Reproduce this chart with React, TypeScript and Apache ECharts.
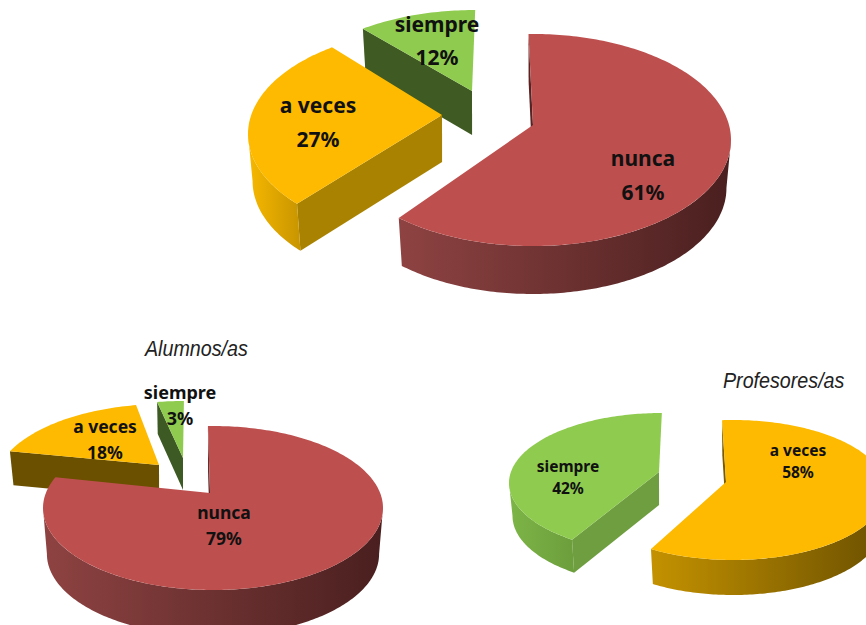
import React, { useEffect, useRef } from "react";
import * as echarts from "echarts";

// ---- data ----
const generalCategories = ["nunca", "a veces", "siempre"];
const generalValues = [61, 27, 12];
const alumnosCategories = ["nunca", "a veces", "siempre"];
const alumnosValues = [79, 18, 3];
const profesoresCategories = ["a veces", "siempre"];
const profesoresValues = [58, 42];
const titles = ["Alumnos/as", "Profesores/as"];

// ---- layout / style only ----
const RED = { top: "#BD504F", cut: "#5A2323", wall0: "#8E4342", wall1: "#4A1F1F" };
const BOTTOM_K = 0.977;

type Slice = {
  ax: number; ay: number; cx: number; cy: number; rx: number; ry: number;
  start: number; scale: number; depth: number; z: number;
  lx: number; ly: number; lh: number; fs: number;
  top: string; cut: string; wall0: string; wall1: string;
};
const O = (cut: string, wall0: string, wall1: string) => ({ top: "#FDBA00", cut, wall0, wall1 });
const G = (cut: string, wall0: string, wall1: string) => ({ top: "#8ECB4F", cut, wall0, wall1 });

const generalLayout: Slice[] = [
  { ax: 533, ay: 125, cx: 533, cy: 140, rx: 198, ry: 106, start: -1.3, scale: 1.02, depth: 48, z: 2, lx: 643, ly: 158, lh: 34, fs: 21, ...RED },
  { ax: 442, ay: 115, cx: 446, cy: 134, rx: 198, ry: 106, start: 228.8, scale: 0.988, depth: 47, z: 3, lx: 318, ly: 105, lh: 34, fs: 21, ...O("#A88200", "#F7B800", "#C89500") },
  { ax: 472, ay: 91, cx: 475, cy: 116, rx: 198, ry: 106, start: 325.5, scale: 0.8, depth: 44, z: 1, lx: 437, ly: 24, lh: 33, fs: 21, ...G("#3F5A22", "#3F5A22", "#3F5A22") },
];
const alumnosLayout: Slice[] = [
  { ax: 210, ay: 493, cx: 213, cy: 508, rx: 170, ry: 82, start: -1.7, scale: 1.033, depth: 46, z: 3, lx: 224, ly: 512, lh: 26, fs: 17.5, ...RED },
  { ax: 159, ay: 465, cx: 164, cy: 486, rx: 170, ry: 82, start: 295, scale: 0.857, depth: 34, z: 2, lx: 105, ly: 426, lh: 26, fs: 17.5, ...O("#6B5000", "#6B5000", "#6B5000") },
  { ax: 183, ay: 458, cx: 184, cy: 483, rx: 170, ry: 82, start: 350.9, scale: 0.84, depth: 32, z: 1, lx: 180, ly: 392, lh: 26, fs: 18, ...G("#3D5A25", "#3D5A25", "#3D5A25") },
];
const profesoresLayout: Slice[] = [
  { ax: 726, ay: 482, cx: 733, cy: 490, rx: 153, ry: 70, start: -4.1, scale: 1.037, depth: 35, z: 2, lx: 798, ly: 450, lh: 22, fs: 15.5, ...O("#7A5A00", "#C49200", "#6B5000") },
  { ax: 659, ay: 472, cx: 662, cy: 483, rx: 153, ry: 70, start: 216, scale: 0.952, depth: 33, z: 1, lx: 568, ly: 466, lh: 22, fs: 15.5, ...G("#6E9E3F", "#7DB547", "#6C9E3C") },
];

const rad = (d: number) => (d * Math.PI) / 180;
const pt = (s: Slice, deg: number): [number, number] => [
  s.cx + s.rx * Math.sin(rad(deg)),
  s.cy - s.ry * Math.cos(rad(deg)),
];
const low = (s: Slice, p: [number, number]): [number, number] => [
  s.cx + (p[0] - s.cx) * BOTTOM_K,
  p[1] + s.depth,
];
const arc = (s: Slice, a: number, b: number) => {
  const out: [number, number][] = [];
  const n = Math.max(2, Math.ceil(Math.abs(b - a)));
  for (let i = 0; i <= n; i++) out.push(pt(s, a + ((b - a) * i) / n));
  return out;
};

const LABEL_FONT = '"Noto Sans", sans-serif';

function pieSeries(categories: string[], values: number[], layout: Slice[]) {
  return {
    type: "custom",
    coordinateSystem: "none",
    silent: true,
    clip: false,
    data: values.map((v) => [v]),
    renderItem: (params: any, api: any) => {
      const s = layout[params.dataIndex];
      const value = api.value(0) as number;
      const a0 = s.start;
      const a1 = s.start + value * 3.6 * s.scale;
      const apex: [number, number] = [s.ax, s.ay];
      const children: any[] = [];
      // cut face at the slice's starting edge
      const sp = pt(s, a0);
      children.push({
        type: "polygon",
        z2: s.z * 10,
        shape: { points: [sp, apex, low(s, apex), low(s, sp)] },
        style: { fill: s.cut },
      });
      // outer wall: only the front half of the ellipse shows
      const w0 = Math.max(a0, 90);
      const w1 = Math.min(a1, 270);
      if (w1 > w0) {
        const upper = arc(s, w0, w1);
        const lower = upper.map((p) => low(s, p)).reverse();
        children.push({
          type: "polygon",
          z2: s.z * 10 + 1,
          shape: { points: [...upper, ...lower] },
          style: {
            fill: new echarts.graphic.LinearGradient(0, 0, 1, 0, [
              { offset: 0, color: s.wall0 },
              { offset: 1, color: s.wall1 },
            ]),
          },
        });
      }
      // top face
      children.push({
        type: "polygon",
        z2: s.z * 10 + 2,
        shape: { points: [apex, ...arc(s, a0, a1)] },
        style: { fill: s.top },
      });
      // labels
      const txt = (text: string, y: number) => ({
        type: "text",
        z2: 100,
        x: s.lx,
        y,
        style: {
          text,
          fill: "#111111",
          fontFamily: LABEL_FONT,
          fontWeight: "bold",
          fontSize: s.fs,
          align: "center",
          verticalAlign: "middle",
        },
      });
      children.push(txt(categories[params.dataIndex], s.ly));
      children.push(txt(`${value}%`, s.ly + s.lh));
      return { type: "group", children };
    },
  };
}

export default function App() {
  const ref = useRef<HTMLDivElement>(null);
  useEffect(() => {
    const chart = echarts.init(ref.current!, undefined, { renderer: "svg" });
    const titleStyle = {
      fill: "#222222",
      fontFamily: '"Liberation Sans", sans-serif',
      fontStyle: "italic",
      fontSize: 22,
      verticalAlign: "middle",
    };
    chart.setOption({
      animation: false,
      backgroundColor: "#ffffff",
      graphic: [
        { type: "text", x: 145, y: 348, scaleX: 0.895, style: { ...titleStyle, text: titles[0] } },
        { type: "text", x: 723, y: 380, scaleX: 0.895, style: { ...titleStyle, text: titles[1] } },
      ],
      series: [
        pieSeries(generalCategories, generalValues, generalLayout),
        pieSeries(alumnosCategories, alumnosValues, alumnosLayout),
        pieSeries(profesoresCategories, profesoresValues, profesoresLayout),
      ],
    });
    return () => chart.dispose();
  }, []);
  return (
    <div
      ref={ref}
      style={{ position: "fixed", left: 0, top: 0, width: 866, height: 625, overflow: "hidden" }}
    />
  );
}
